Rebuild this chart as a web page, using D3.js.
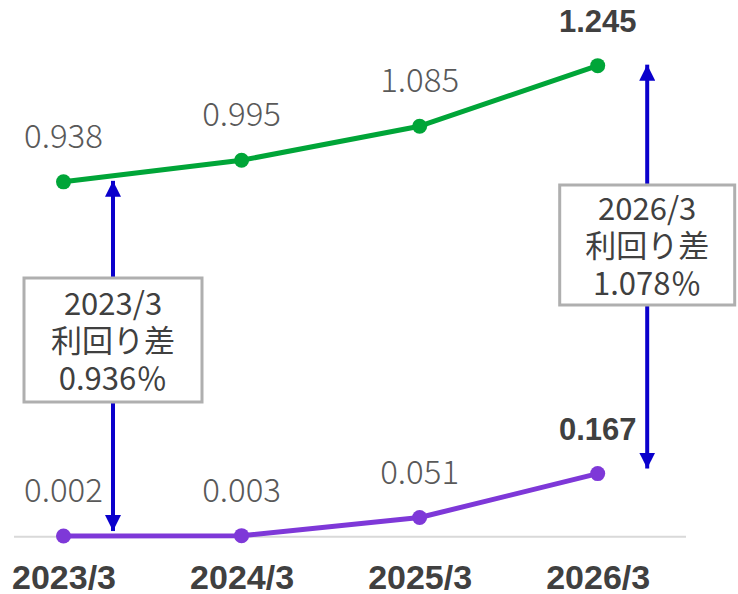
<!DOCTYPE html>
<html>
<head>
<meta charset="utf-8">
<script src="https://cdn.jsdelivr.net/npm/d3@7"></script>
<style>
  html, body { margin: 0; padding: 0; background: #fff; }
  svg { display: block; }
  text { font-family: "Noto Sans CJK JP", "Noto Sans", sans-serif; }
</style>
</head>
<body>
<svg id="chart" width="738" height="594"></svg>
<script>
// Fiscal year-ends on the category axis
const categories = ["2023/3", "2024/3", "2025/3", "2026/3"];
// Upper series (green) and lower series (purple), in %
const upperValues = [0.938, 0.995, 1.085, 1.245];
const lowerValues = [0.002, 0.003, 0.051, 0.167];
// Spread callouts: which year, and the spread they report
const spreadYears = ["2023/3", "2026/3"];
const spreadValues = [0.936, 1.078];
const spreadTitle = "利回り差";
// Years whose value labels are emphasised
const boldYears = ["2026/3"];

const svg = d3.select("#chart");

const x = d3.scalePoint().domain(categories).range([63.5, 597.7]);
const y = d3.scaleLinear().domain([0, 1.4]).range([536.8, 7]);

const green = "#00A538", purple = "#7E38D8", blue = "#0A00CC";
const labelGray = "#595959", darkGray = "#404040";
const boldFont = '"Liberation Sans", Arial, sans-serif';

// Category axis baseline
svg.append("line")
  .attr("x1", 14).attr("x2", 686)
  .attr("y1", y(0)).attr("y2", y(0))
  .attr("stroke", "#D9D9D9").attr("stroke-width", 2);

// Category axis labels
const xAxis = d3.axisBottom(x).tickSize(0).tickPadding(0);
const gx = svg.append("g").attr("transform", `translate(0,${y(0)})`).call(xAxis);
gx.select(".domain").remove();
gx.selectAll("text")
  .attr("y", 52.5).attr("dy", null)
  .attr("font-size", 34).attr("font-weight", "bold")
  .attr("fill", darkGray)
  .style("font-family", boldFont);

// Lines with markers and value labels
const line = d3.line().x((d, i) => x(categories[i])).y(d => y(d));
[[upperValues, green], [lowerValues, purple]].forEach(([vals, col]) => {
  svg.append("path").datum(vals)
    .attr("d", line).attr("fill", "none")
    .attr("stroke", col).attr("stroke-width", 5)
    .attr("stroke-linejoin", "round");
  svg.append("g").selectAll("circle").data(vals).join("circle")
    .attr("cx", (d, i) => x(categories[i])).attr("cy", d => y(d))
    .attr("r", 7.5).attr("fill", col);
  svg.append("g").selectAll("text").data(vals).join("text")
    .attr("x", (d, i) => x(categories[i]))
    .attr("y", d => y(d) - 34)
    .attr("text-anchor", "middle")
    .each(function (d, i) {
      const bold = boldYears.includes(categories[i]);
      d3.select(this)
        .attr("font-size", bold ? 31 : 33)
        .attr("font-weight", bold ? "bold" : 300)
        .attr("fill", bold ? darkGray : labelGray)
        .style("font-family", bold ? boldFont : null);
    })
    .text(d => d.toFixed(3));
});

// Spread callouts: a box with arrows up to the green series and down to the purple one
const defs = svg.append("defs");
defs.append("marker")
  .attr("id", "head").attr("viewBox", "0 0 10 10")
  .attr("refX", 10).attr("refY", 5)
  .attr("markerWidth", 4).attr("markerHeight", 4)
  .attr("markerUnits", "strokeWidth")
  .attr("orient", "auto")
  .append("path").attr("d", "M0,0 L10,5 L0,10 Z").attr("fill", blue);

const boxes = [
  { w: 178, h: 124, cy: 340 },
  { w: 175, h: 120, cy: 245 }
];

spreadYears.forEach((yr, k) => {
  const i = categories.indexOf(yr);
  const ax = x(yr) + 49.5;
  const b = boxes[k];
  const top = b.cy - b.h / 2, bottom = b.cy + b.h / 2;
  const tipUp = y(upperValues[i]) - 1;
  const tipDown = y(lowerValues[i]) - 5;

  svg.append("line")
    .attr("x1", ax).attr("x2", ax).attr("y1", top).attr("y2", tipUp)
    .attr("stroke", blue).attr("stroke-width", 4).attr("marker-end", "url(#head)");
  svg.append("line")
    .attr("x1", ax).attr("x2", ax).attr("y1", bottom).attr("y2", tipDown)
    .attr("stroke", blue).attr("stroke-width", 4).attr("marker-end", "url(#head)");

  svg.append("rect")
    .attr("x", ax - b.w / 2).attr("y", top)
    .attr("width", b.w).attr("height", b.h)
    .attr("fill", "#fff").attr("stroke", "#AFAFAF").attr("stroke-width", 3);

  const lines = [yr, spreadTitle, spreadValues[k].toFixed(3) + "％"];
  svg.append("g").selectAll("text").data(lines).join("text")
    .attr("x", ax).attr("y", (d, j) => b.cy + 12 + (j - 1) * 37.5)
    .attr("text-anchor", "middle")
    .attr("font-size", 31).attr("fill", darkGray)
    .text(d => d);
});
</script>
</body>
</html>
